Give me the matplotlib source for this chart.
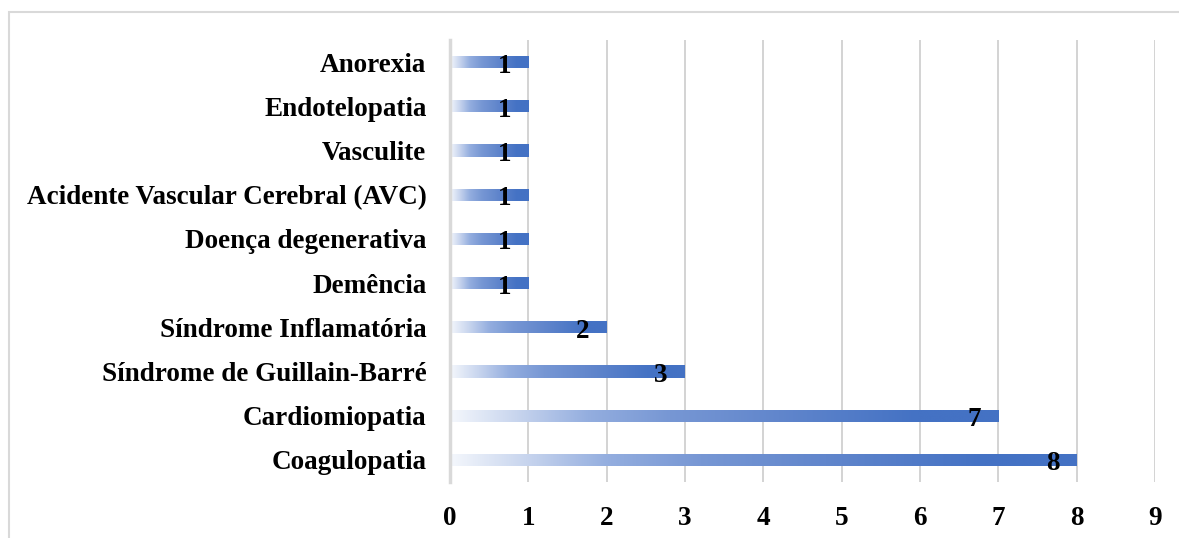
import numpy as np
import matplotlib.pyplot as plt
from matplotlib.colors import LinearSegmentedColormap
from matplotlib.patches import Rectangle

categories = [
    "Coagulopatia",
    "Cardiomiopatia",
    "Síndrome de Guillain-Barré",
    "Síndrome Inflamatória",
    "Demência",
    "Doença degenerativa",
    "Acidente Vascular Cerebral (AVC)",
    "Vasculite",
    "Endotelopatia",
    "Anorexia",
]
counts = [8, 7, 3, 2, 1, 1, 1, 1, 1, 1]
x_ticks = list(range(0, 10))

plt.rcParams['font.family'] = ['Liberation Serif', 'DejaVu Serif']

W, H = 1179, 538
fig = plt.figure(figsize=(W / 100, H / 100), dpi=100)
ax = fig.add_axes([450 / W, 1 - 482 / H, (1155 - 450) / W, (482 - 40) / H])

# light grey frame around the chart area
fig.patches.append(Rectangle((8.5 / W, -0.1), 1.2, 1 - 11.5 / H + 0.1,
                             transform=fig.transFigure, fill=False,
                             edgecolor='#D9D9D9', linewidth=1.5, zorder=0))

grad = LinearSegmentedColormap.from_list(
    'bar_grad',
    [(0.0, '#F4F7FC'), (0.12, '#C8D5EE'), (0.25, '#94AEDF'), (0.4, '#7797D4'),
     (0.6, '#6186CC'), (0.85, '#4472C4'), (1.0, '#4472C4')])
ramp = np.linspace(0, 1, 256).reshape(1, -1)

FS = 19.5
bar_h = 0.28
y_pos = np.arange(len(categories))
bars = ax.barh(y_pos, counts, height=bar_h, color='none', edgecolor='none', zorder=2)
for b, v in zip(bars, counts):
    x0, y0 = b.get_x(), b.get_y()
    im = ax.imshow(ramp, cmap=grad, aspect='auto', interpolation='bicubic',
                   extent=(x0, x0 + v, y0, y0 + bar_h), zorder=2)
    im.set_clip_path(b)
    ax.annotate(f"{v}", xy=(v, y0 + bar_h / 2), xytext=(-24, -4),
                textcoords='offset pixels',
                ha='center', va='center', fontsize=FS, fontweight='bold',
                color='black', zorder=4)

ax.set_xlim(0, 9)
ax.set_ylim(-0.5, len(categories) - 0.5)
ax.set_xticks(x_ticks)
ax.set_xticklabels([str(t) for t in x_ticks], fontsize=FS, fontweight='bold')
ax.set_yticks(y_pos)
ax.set_yticklabels(categories, fontsize=FS, fontweight='bold')
ax.tick_params(axis='both', length=0)
ax.tick_params(axis='x', pad=17)
ax.tick_params(axis='y', pad=17)

ax.grid(axis='x', color='#D0D0D0', linewidth=1.3, zorder=0)
ax.set_axisbelow(True)
for s in ['top', 'right', 'bottom']:
    ax.spines[s].set_visible(False)
ax.spines['left'].set_color('#D9D9D9')
ax.spines['left'].set_linewidth(2.5)

fig.savefig('out.png', dpi=100, facecolor='white')
